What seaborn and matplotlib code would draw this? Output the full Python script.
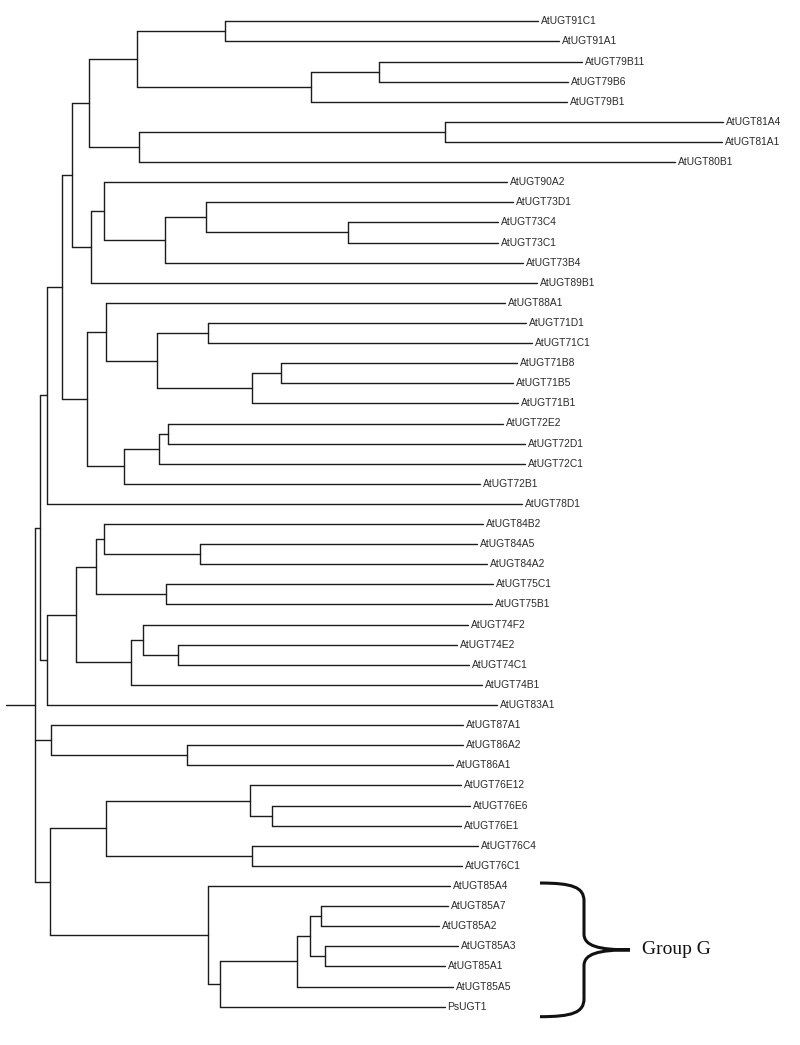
import matplotlib.pyplot as plt
import pandas as pd
import seaborn as sns
from matplotlib.patches import PathPatch
from matplotlib.path import Path

sns.set_theme(style='white')
plt.rcParams['font.family'] = ['Liberation Sans', 'DejaVu Sans']

# leaf names, top to bottom
leaves = [
    'AtUGT91C1', 'AtUGT91A1', 'AtUGT79B11', 'AtUGT79B6', 'AtUGT79B1',
    'AtUGT81A4', 'AtUGT81A1', 'AtUGT80B1', 'AtUGT90A2', 'AtUGT73D1',
    'AtUGT73C4', 'AtUGT73C1', 'AtUGT73B4', 'AtUGT89B1', 'AtUGT88A1',
    'AtUGT71D1', 'AtUGT71C1', 'AtUGT71B8', 'AtUGT71B5', 'AtUGT71B1',
    'AtUGT72E2', 'AtUGT72D1', 'AtUGT72C1', 'AtUGT72B1', 'AtUGT78D1',
    'AtUGT84B2', 'AtUGT84A5', 'AtUGT84A2', 'AtUGT75C1', 'AtUGT75B1',
    'AtUGT74F2', 'AtUGT74E2', 'AtUGT74C1', 'AtUGT74B1', 'AtUGT83A1',
    'AtUGT87A1', 'AtUGT86A2', 'AtUGT86A1', 'AtUGT76E12', 'AtUGT76E6',
    'AtUGT76E1', 'AtUGT76C4', 'AtUGT76C1', 'AtUGT85A4', 'AtUGT85A7',
    'AtUGT85A2', 'AtUGT85A3', 'AtUGT85A1', 'AtUGT85A5', 'PsUGT1',
]

# distance from the left edge to each leaf tip
tip_x = [
    538, 559, 582, 568, 567, 723, 722, 675, 507, 513,
    498, 498, 523, 537, 505, 526, 532, 517, 513, 518,
    503, 525, 525, 480, 522, 483, 477, 487, 493, 492,
    468, 457, 469, 482, 497, 463, 463, 453, 461, 470,
    461, 478, 462, 450, 448, 439, 458, 445, 453, 445,
]

# topology, internal node label = its distance from the left edge
tree = (
    '((((((((AtUGT91C1,AtUGT91A1)225,((AtUGT79B11,AtUGT79B6)379,AtUGT79B1)311)137,'
    '((AtUGT81A4,AtUGT81A1)445,AtUGT80B1)139)89,'
    '((AtUGT90A2,((AtUGT73D1,(AtUGT73C4,AtUGT73C1)348)206,AtUGT73B4)165)104,AtUGT89B1)91)72,'
    '((AtUGT88A1,((AtUGT71D1,AtUGT71C1)208,((AtUGT71B8,AtUGT71B5)281,AtUGT71B1)252)157)106,'
    '(((AtUGT72E2,AtUGT72D1)168,AtUGT72C1)159,AtUGT72B1)124)87)62,AtUGT78D1)47,'
    '((((AtUGT84B2,(AtUGT84A5,AtUGT84A2)200)104,(AtUGT75C1,AtUGT75B1)166)96,'
    '((AtUGT74F2,(AtUGT74E2,AtUGT74C1)178)143,AtUGT74B1)131)76,AtUGT83A1)47)40,'
    '(AtUGT87A1,(AtUGT86A2,AtUGT86A1)187)51,'
    '(((AtUGT76E12,(AtUGT76E6,AtUGT76E1)272)250,(AtUGT76C4,AtUGT76C1)252)106,'
    '(AtUGT85A4,((((AtUGT85A7,AtUGT85A2)321,(AtUGT85A3,AtUGT85A1)325)310,AtUGT85A5)297,PsUGT1)220)208)50)35;'
)
root_start = 6

tip_of = dict(zip(leaves, tip_x))
first_y, step = 21.3, 20.11


def parse(s, i=0):
    """Newick 문자열을 (x, children) / leaf name 구조로 바꾼다."""
    if s[i] == '(':
        children = []
        i += 1
        while True:
            child, i = parse(s, i)
            children.append(child)
            if s[i] == ',':
                i += 1
            else:
                i += 1
                break
        j = i
        while s[j] not in ',);':
            j += 1
        return (float(s[i:j]), children), j
    j = i
    while s[j] not in ',);':
        j += 1
    return s[i:j], j


root, _ = parse(tree)

rows = []


def layout(node):
    """노드의 (x, y)를 돌려주고 가지 선분을 rows에 쌓는다."""
    if isinstance(node, str):
        return tip_of[node], first_y + step * leaves.index(node)
    x, children = node
    pts = [layout(c) for c in children]
    ys = [p[1] for p in pts]
    seg = rows[-1][0] + 1 if rows else 0
    rows.extend([(seg, x, ys[0]), (seg, x, ys[-1])])
    for cx, cy in pts:
        seg = rows[-1][0] + 1
        rows.extend([(seg, x, cy), (seg, cx, cy)])
    return x, (ys[0] + ys[-1]) / 2


rx, ry = layout(root)
seg = rows[-1][0] + 1
rows.extend([(seg, root_start, ry), (seg, rx, ry)])
segs = pd.DataFrame(rows, columns=['seg', 'x', 'y'])

fig = plt.figure(figsize=(8, 10.45), dpi=100)
ax = fig.add_axes([0, 0, 1, 1])
sns.lineplot(data=segs, x='x', y='y', units='seg', estimator=None, sort=False,
             color='#1c1c1c', linewidth=1.0, legend=False, ax=ax)

for name in leaves:
    ax.text(tip_of[name] + 2.5, first_y + step * leaves.index(name), name,
            va='center', ha='left', fontsize=7.4, color='#2a2a2a')

# Group G 중괄호
y_top = first_y + step * leaves.index('AtUGT85A4') - 3
y_bot = first_y + step * leaves.index('PsUGT1') + 10
y_mid = (y_top + y_bot) / 2
x0, xs, xt = 540, 584, 630
verts = [
    (x0, y_top), (572, y_top), (xs, y_top + 4), (xs, y_top + 18),
    (xs, y_mid - 16),
    (xs, y_mid - 4), (598, y_mid), (xt, y_mid),
    (598, y_mid), (xs, y_mid + 4), (xs, y_mid + 16),
    (xs, y_bot - 18),
    (xs, y_bot - 4), (572, y_bot), (x0, y_bot),
]
codes = [Path.MOVETO, Path.CURVE4, Path.CURVE4, Path.CURVE4, Path.LINETO,
         Path.CURVE4, Path.CURVE4, Path.CURVE4,
         Path.CURVE4, Path.CURVE4, Path.CURVE4, Path.LINETO,
         Path.CURVE4, Path.CURVE4, Path.CURVE4]
ax.add_patch(PathPatch(Path(verts, codes), fill=False, lw=2.2,
                       edgecolor='#111111', capstyle='butt'))
ax.text(642, y_mid, 'Group G', va='center', ha='left', fontsize=14,
        family=['Liberation Serif', 'DejaVu Serif'], color='#111111')

ax.set_xlim(0, 800)
ax.set_ylim(1045, 0)
ax.axis('off')
fig.savefig('out.png', dpi=100, facecolor='white')
